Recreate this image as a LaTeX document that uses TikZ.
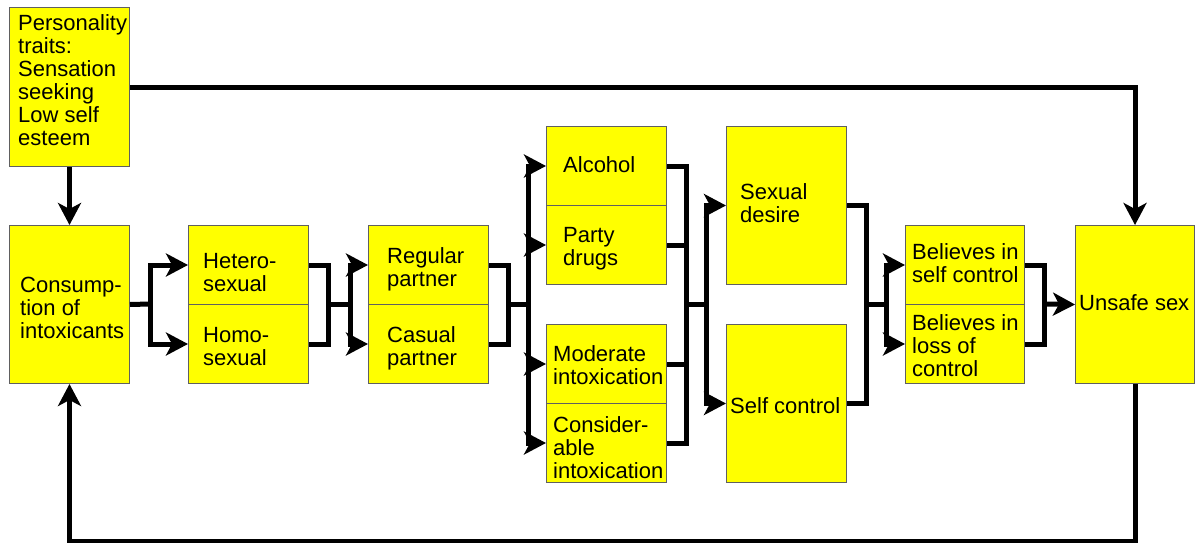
\documentclass[tikz,border=0pt]{standalone}
\usepackage{fontspec}
\setmainfont{Liberation Sans}
\usetikzlibrary{arrows.meta}
\definecolor{boxline}{HTML}{606060}
\definecolor{boxfill}{HTML}{FFFF00}
\tikzset{
  box/.style={draw=boxline, line width=1pt, fill=boxfill, minimum width=120pt, inner sep=0pt, anchor=north west},
  halfbox/.style={box, minimum height=79pt},
  fullbox/.style={box, minimum height=158pt},
  txt/.style={anchor=north west, align=left, inner sep=0pt, font=\fontsize{22}{23}\selectfont},
  wire/.style={line width=5pt, line join=miter},
  arrow/.style={wire, -{Stealth[length=22pt,width=23pt,inset=6pt]}}
}
\begin{document}
\begin{tikzpicture}[x=1pt, y=-1pt]
\useasboundingbox (0,0) rectangle (1196,543);
% boxes
\node[box, minimum height=159pt] (pers) at (9,7) {};
\node[fullbox] (cons) at (9,225) {};
\node[halfbox] (het) at (188,225) {};
\node[halfbox] (homo) at (188,304) {};
\node[halfbox] (reg) at (368,225) {};
\node[halfbox] (cas) at (368,304) {};
\node[halfbox] (alc) at (546,126) {};
\node[halfbox] (party) at (546,205) {};
\node[halfbox] (mod) at (546,324) {};
\node[halfbox] (consid) at (546,403) {};
\node[fullbox] (sexd) at (726,126) {};
\node[fullbox] (selfc) at (726,324) {};
\node[halfbox, minimum width=119pt] (bel1) at (905,225) {};
\node[halfbox, minimum width=119pt] (bel2) at (905,304) {};
\node[fullbox, minimum width=119pt] (unsafe) at (1075,225) {};
% texts
\node[txt] (t-pers) at (18,14) {Personality\\traits:\\Sensation\\seeking\\Low self\\esteem};
\node[txt] (t-cons) at (20,277) {Consump-\\tion of\\intoxicants};
\node[txt] (t-het) at (203,253) {Hetero-\\sexual};
\node[txt] (t-homo) at (203,327) {Homo-\\sexual};
\node[txt] (t-reg) at (387,247) {Regular\\partner};
\node[txt] (t-cas) at (387,326) {Casual\\partner};
\node[txt] (t-alc) at (563,156) {Alcohol};
\node[txt] (t-party) at (563,227) {Party\\drugs};
\node[txt] (t-mod) at (553,345) {Moderate\\intoxication};
\node[txt] (t-consid) at (553,416) {Consider-\\able\\intoxication};
\node[txt] (t-sexd) at (740,183) {Sexual\\desire};
\node[txt] (t-selfc) at (730,397) {Self control};
\node[txt] (t-bel1) at (912,243) {Believes in\\self control};
\node[txt] (t-bel2) at (912,314) {Believes in\\loss of\\control};
\node[txt] (t-unsafe) at (1079,294) {Unsafe sex};
% branch / merge points
\coordinate (s1) at (150,304);
\coordinate (m1) at (328,304);
\coordinate (s2) at (350,304);
\coordinate (m2) at (508,304);
\coordinate (s3) at (528,304);
\coordinate (m3) at (686,304);
\coordinate (s4) at (706,304);
\coordinate (m4) at (866,304);
\coordinate (s5) at (886,304);
\coordinate (m5) at (1044,304);
% connectors
\draw[arrow] (pers.south) -- (cons.north);
\draw[arrow] (pers.east) -| (unsafe.north);
\draw[arrow] (unsafe.south) -- ++(0,157) -| (cons.south);
\draw[wire] (cons.east) -- (s1);
\draw[arrow] (s1) |- (het.west);
\draw[arrow] (s1) |- (homo.west);
\draw[wire] (het.east) -| (m1) |- (homo.east);
\draw[wire] (m1) -- (s2);
\draw[arrow] (s2) |- (reg.west);
\draw[arrow] (s2) |- (cas.west);
\draw[wire] (reg.east) -| (m2) |- (cas.east);
\draw[wire] (m2) -- (s3);
\draw[arrow] (s3) |- (alc.west);
\draw[arrow] (s3) |- (party.west);
\draw[arrow] (s3) |- (mod.west);
\draw[arrow] (s3) |- (consid.west);
\draw[wire] (alc.east) -| (m3) |- (consid.east);
\draw[wire] (party.east) -| (m3);
\draw[wire] (mod.east) -| (m3);
\draw[wire] (m3) -- (s4);
\draw[arrow] (s4) |- (sexd.west);
\draw[arrow] (s4) |- (selfc.west);
\draw[wire] (sexd.east) -| (m4) |- (selfc.east);
\draw[wire] (m4) -- (s5);
\draw[arrow] (s5) |- (bel1.west);
\draw[arrow] (s5) |- (bel2.west);
\draw[wire] (bel1.east) -| (m5) |- (bel2.east);
\draw[arrow] (m5) -- (unsafe.west);
\end{tikzpicture}
\end{document}
